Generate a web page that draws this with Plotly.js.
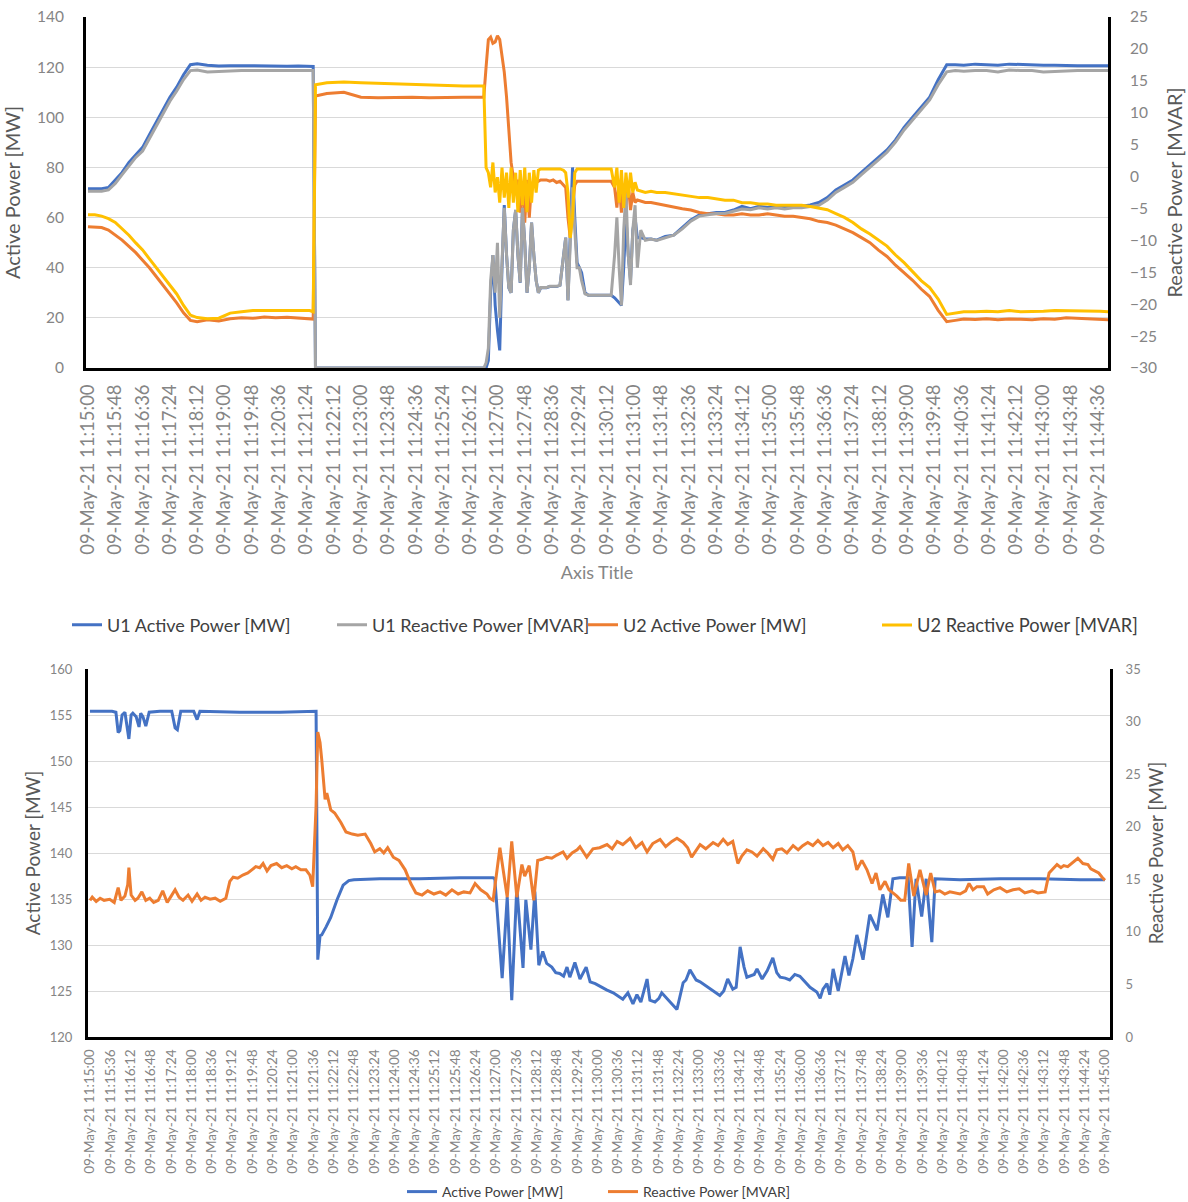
<!DOCTYPE html>
<html>
<head>
<meta charset="utf-8">
<script src="https://cdn.plot.ly/plotly-3.0.1.min.js"></script>
<style>
html,body{margin:0;padding:0;background:#ffffff;}
#chart{width:1188px;height:1202px;}
</style>
</head>
<body>
<div id="chart"></div>
<script>
// ---------- TOP CHART DATA (seconds after 09-May-21 11:15:00) ----------
const topSeconds = [
  0,12,24,36,48,60,72,84,96,108,120,132,144,156,168,180,192,210,230,250,270,290,310,330,350,370,390,396,
  400,420,450,480,510,540,570,600,630,660,690,696,
  700,704,708,712,716,720,724,728,732,736,740,744,748,752,756,760,764,768,772,776,780,784,788,792,796,800,
  806,812,818,824,830,836,
  840,844,848,852,856,860,864,868,
  874,880,890,900,910,920,
  926,930,934,938,942,946,950,954,958,962,966,972,980,
  990,1000,1015,1030,1045,1060,1075,1090,1105,1120,1135,1150,1165,1180,1195,1210,1225,1240,1255,1270,1285,1300,1315,1330,1345,1360,1375,1390,1405,1420,1435,1450,1465,1480,1495,1510,1525,1540,
  1560,1580,1600,1620,1640,1660,1680,1700,1720,1740,1760,1780,1794
];
const u1ActiveMW = [
  71.5,71.5,71.5,72,75,78,82,85,88,93,98,103,108,112,117,121,121.3,120.8,120.5,120.6,120.5,120.6,120.5,120.5,120.4,120.5,120.5,120.3,
  0,0,0,0,0,0,0,0,0,0,0,0,
  0,3,30,45,25,15,7,40,65,45,32,30,55,63,45,34,64,50,30,40,58,45,35,30,32,32,
  32,32.5,32.5,32.5,33,45,
  52,27,50,80,60,42,40,38,
  30,29,29,29,29,29,
  28,27,26,25,40,60,45,35,55,60,52,52,51.5,
  51.5,51,52.5,53,56,59,61,61.5,62,62,63,64.5,63.5,64.5,64,64.5,64,64.5,64.5,65,66,68,71,73,75,78,81,84,87,91,96,100,104,108,115,121,121,120.8,
  121.2,121,120.8,121.2,121,121,120.8,120.8,120.6,120.6,120.6,120.6,120.6
];
const u1ReactiveMVAR = [
  -2.3,-2.3,-2.3,-2.1,-1.1,0.3,1.6,3.0,4.0,5.9,7.9,9.9,11.8,13.4,15.2,16.6,16.7,16.4,16.5,16.6,16.6,16.6,16.6,16.6,16.6,16.6,16.6,16.6,
  -30,-30,-30,-30,-30,-30,-30,-30,-30,-30,-30,-30,
  -29.2,-26.9,-16.3,-12.3,-18.2,-10.4,-22.1,-12.3,-4.9,-12.3,-17.4,-18.2,-8.4,-5.2,-12.3,-16.6,-4.9,-10.4,-18.2,-14.3,-7.2,-12.3,-16.3,-18.2,-17.4,-17.4,
  -17.4,-17.2,-17.2,-17.2,-17.0,-12.3,
  -9.6,-19.4,-10.4,-1.7,-8.4,-14.3,-14.3,-16.3,
  -18.4,-18.6,-18.6,-18.6,-18.6,-18.6,
  -12.3,-6.4,-14.3,-20.2,-8.4,-2.5,-12.3,-17.0,-8.4,-4.5,-14.3,-8.4,-10.0,
  -9.8,-10.0,-9.6,-9.2,-8.2,-7.0,-6.2,-6.0,-5.8,-5.8,-5.4,-5.1,-5.2,-4.9,-5.1,-4.9,-5.1,-4.9,-4.9,-4.7,-4.5,-3.7,-2.5,-1.7,-0.9,0.3,1.4,2.6,3.8,5.4,7.3,8.9,10.5,12.0,14.4,16.4,16.6,16.5,
  16.6,16.6,16.4,16.7,16.6,16.6,16.4,16.5,16.6,16.6,16.6,16.6,16.6
];
const u2ActiveMW = [
  56.3,56.3,56,55,53,51,48.5,46,43,40,36.5,33,29.5,26,22,19,18.5,19.2,18.8,19.6,20,19.8,20.3,20,20.2,19.8,19.6,19.5,
  108.5,109.5,110,108,107.8,108,108,107.8,108,108,108,108,
  120,131,132,129.5,130,132.5,131,125,118,108,95,82,76,73,75,62,74,58,75,60,74,73,75,74.5,75,75,
  75,74.5,75,74,74.5,73,
  72,60,52,65,73,74.5,74.5,74.5,
  74.5,74.5,74.5,74.5,74.5,74.5,
  72,64,74,62,73,65,74,63,70,66,67,66.5,66,
  66,65.5,65,64,63.5,63,62,61.5,61.5,61,61,61.5,61,61,61.5,61,60.5,60.5,60,59.5,58.5,58,57,55.5,54,52,50,47,44.5,41,38,35,31.5,28.5,23,18.5,19,19.5,
  19.3,19.6,19.2,19.5,19.4,19.2,19.6,19.4,20,19.8,19.5,19.3,19.2
];
const u2ReactiveMVAR = [
  -6.0,-6.0,-6.2,-6.6,-7.2,-8.2,-9.2,-10.4,-11.5,-12.9,-14.3,-15.7,-17.0,-18.4,-20.2,-21.7,-22.1,-22.3,-22.2,-21.4,-21.2,-21.0,-21.0,-21.0,-20.9,-21.0,-21.0,-21.2,
  14.4,14.7,14.8,14.7,14.6,14.5,14.4,14.4,14.3,14.2,14.2,14.2,
  1.4,0.6,-1.7,2.2,-2.5,-0.1,-4.1,1.4,-3.3,0.6,-4.9,1.4,-4.1,0.6,-5.6,1.0,-4.5,1.4,-5.6,0.6,-4.1,1.0,-2.5,1.0,1.2,1.2,
  1.2,1.2,1.2,1.2,1.2,1.0,
  0.6,-2.5,-9.6,-6.4,0.6,1.2,1.2,1.2,
  1.2,1.2,1.2,1.2,1.2,1.2,
  -1.7,1.4,-4.1,1.0,-4.9,0.6,-3.3,0.6,-2.5,-0.9,-2.1,-2.3,-2.5,
  -2.3,-2.5,-2.5,-2.7,-2.9,-3.1,-3.3,-3.3,-3.5,-3.7,-3.7,-4.1,-4.1,-4.3,-4.3,-4.5,-4.5,-4.5,-4.5,-4.7,-4.9,-5.2,-5.8,-6.4,-7.2,-8.2,-9.0,-10.0,-10.9,-12.3,-13.5,-14.9,-16.3,-17.4,-19.2,-21.6,-21.4,-21.2,
  -21.2,-21.1,-21.2,-21.0,-21.2,-21.2,-21.1,-21.0,-21.0,-21.0,-21.0,-21.1,-21.2
];

// ---------- BOTTOM CHART DATA ----------
const activeSeconds = [
  0,18,39,46,50,53,57,62,69,73,
  76,82,87,90,94,99,105,124,145,151,
  155,161,184,190,195,266,337,401,404,408,
  411,419,427,438,449,459,468,514,585,656,
  715,718,731,740,748,757,768,773,782,789,
  796,803,810,819,826,833,840,846,851,860,
  869,880,887,896,904,917,928,936,945,954,
  963,970,977,988,993,1002,1009,1014,1023,1032,
  1041,1052,1057,1064,1075,1082,1091,1100,1108,1117,
  1124,1131,1140,1146,1153,1160,1165,1170,1178,1183,
  1192,1201,1211,1218,1224,1233,1241,1250,1259,1268,
  1277,1289,1295,1300,1307,1312,1318,1327,1339,1346,
  1353,1360,1371,1383,1396,1406,1415,1424,1436,1451,
  1458,1465,1475,1483,1493,1499,1543,1614,1685,1756,
  1800
];
const activePowerMW = [
  155.4,155.4,155.4,155.3,153.1,153.3,155.0,155.3,152.4,155.0,
  155.2,154.8,153.7,155.2,154.8,153.8,155.3,155.4,155.4,153.6,
  153.4,155.4,155.4,154.5,155.4,155.3,155.3,155.4,128.4,131,
  131.1,132,133,134.9,136.5,137,137.1,137.2,137.2,137.3,
  137.3,137.2,126.4,135.2,124,136.3,127.5,134.9,129.5,135.8,
  127.8,129.3,128,127.6,127,126.9,126.6,127.6,126.5,128.1,
  126.3,127.6,126,125.8,125.5,125.1,124.8,124.5,124.1,124.8,
  123.6,124.6,123.8,126.3,124,123.8,124.2,124.8,124.2,123.6,
  123,125.9,126.2,127.3,126.2,126,125.6,125.2,124.9,124.5,
  125,126.3,125.2,125.4,129.8,127.6,126.5,126.6,126.8,127.4,
  126.3,127.2,128.6,127,126.5,126.4,126.2,126.8,126.6,126,
  125.4,124.9,124.2,125.2,125.8,124.6,127.4,125,128.8,126.7,
  128.5,131.1,128.4,133.3,131.6,135.5,133,137.2,137.3,137.3,
  129.8,137.2,133.1,137.2,130.3,137.2,137.1,137.2,137.2,137.1,
  137.1
];
const reactiveSeconds = [
  0,4,11,18,25,35,43,50,55,62,
  67,69,73,80,85,92,99,106,113,121,
  129,137,144,151,158,165,174,181,190,197,
  204,213,222,231,241,248,254,262,271,280,
  287,294,301,307,314,321,331,340,349,358,
  365,374,383,390,395,401,404,408,411,417,
  420,427,434,445,454,465,475,488,498,505,
  514,521,528,538,548,559,569,578,589,599,
  610,621,631,642,653,663,674,683,693,704,
  709,715,727,740,748,757,766,771,779,787,
  794,802,810,819,828,839,846,855,864,869,
  881,892,904,917,926,935,945,958,968,979,
  988,998,1011,1021,1032,1041,1052,1060,1067,1075,
  1082,1092,1105,1114,1123,1131,1140,1149,1156,1165,
  1174,1183,1194,1202,1211,1218,1227,1236,1247,1256,
  1264,1273,1282,1291,1300,1309,1318,1327,1335,1344,
  1353,1360,1369,1378,1387,1394,1401,1410,1417,1424,
  1431,1438,1445,1452,1461,1472,1483,1491,1499,1507,
  1516,1525,1534,1543,1553,1559,1566,1573,1585,1592,
  1603,1614,1626,1637,1648,1658,1671,1681,1694,1701,
  1708,1715,1722,1727,1734,1743,1752,1761,1770,1775,
  1782,1789,1795,1800
];
const reactivePowerMVAR = [
  13.0,13.3,12.9,13.2,13.0,13.1,12.8,14.2,13.0,13.4,
  14.5,16.1,13.5,13.0,13.2,13.8,13.0,13.2,12.8,13.0,
  13.9,12.8,13.4,14.0,13.3,13.0,13.5,12.9,13.6,13.0,
  13.3,13.1,13.2,12.9,13.2,14.8,15.2,15.1,15.4,15.6,
  15.9,16.2,16.1,16.5,15.8,16.3,16.5,16.1,16.3,16.0,
  16.2,15.9,15.9,15.4,14.3,22.0,29.0,28.0,26.4,22.6,
  23.2,21.6,21.3,20.4,19.5,19.3,19.2,19.3,18.4,17.6,
  17.9,17.5,18.0,17.1,16.8,15.9,14.6,13.7,13.5,13.9,
  13.6,13.8,13.5,14.0,13.6,13.8,13.7,14.6,14.0,13.6,
  13.2,13.0,18.0,13.3,18.6,13.3,16.4,15.3,16.3,13.0,
  16.8,16.9,17.1,17.0,17.3,17.6,17.0,17.5,17.8,18.1,
  17.1,17.9,18.0,18.3,17.9,18.6,18.3,18.9,18.0,18.5,
  17.6,18.4,18.8,18.1,18.6,18.9,18.5,18.0,17.1,17.8,
  18.3,17.9,18.5,18.2,18.8,18.3,18.6,16.5,17.2,17.8,
  17.6,17.2,17.9,17.5,16.9,17.8,17.9,17.5,18.2,17.8,
  18.2,18.5,18.2,18.7,18.2,18.5,18.0,18.4,17.8,18.2,
  17.6,15.9,16.8,15.9,14.6,15.6,14.0,14.8,14.0,13.7,
  13.4,13.0,13.0,16.5,13.4,15.9,13.5,15.6,13.8,13.9,
  13.6,13.8,13.7,13.6,13.9,14.6,14.0,14.3,14.3,13.6,
  14.0,14.2,13.8,14.0,14.1,13.7,13.9,13.7,13.8,15.6,
  16.0,16.4,16.1,16.3,16.2,16.6,17.0,16.5,16.4,16.0,
  15.8,15.6,15.2,14.9
];

// ---------- helpers ----------
const START_MS = Date.UTC(2021, 4, 9, 11, 15, 0);
function toTime(s) {
  return new Date(START_MS + s * 1000).toISOString().replace('T', ' ').replace('Z', '');
}
const FONT = 'Lato, "Open Sans", "DejaVu Sans", sans-serif';
const BLUE = '#4472C4', GRAY = '#A5A5A5', ORANGE = '#ED7D31', YELLOW = '#FFC000';
const W = 1188, H = 1202;
const px = v => v / W;
const py = v => 1 - v / H;

const topX = topSeconds.map(toTime);
const actX = activeSeconds.map(toTime);
const reaX = reactiveSeconds.map(toTime);

const traces = [
  {x: topX, y: u1ActiveMW, name: 'U1 Active Power [MW]', xaxis: 'x', yaxis: 'y', legend: 'legend',
   type: 'scatter', mode: 'lines', line: {color: BLUE, width: 3}},
  {x: topX, y: u1ReactiveMVAR, name: 'U1 Reactive Power [MVAR]', xaxis: 'x', yaxis: 'y2', legend: 'legend2',
   type: 'scatter', mode: 'lines', line: {color: GRAY, width: 3}},
  {x: topX, y: u2ActiveMW, name: 'U2 Active Power [MW]', xaxis: 'x', yaxis: 'y', legend: 'legend3',
   type: 'scatter', mode: 'lines', line: {color: ORANGE, width: 3}},
  {x: topX, y: u2ReactiveMVAR, name: 'U2 Reactive Power [MVAR]', xaxis: 'x', yaxis: 'y2', legend: 'legend4',
   type: 'scatter', mode: 'lines', line: {color: YELLOW, width: 3}},
  {x: actX, y: activePowerMW, name: 'Active Power [MW]', xaxis: 'x2', yaxis: 'y3', legend: 'legend5',
   type: 'scatter', mode: 'lines', line: {color: BLUE, width: 3}},
  {x: reaX, y: reactivePowerMVAR, name: 'Reactive Power [MVAR]', xaxis: 'x2', yaxis: 'y4', legend: 'legend6',
   type: 'scatter', mode: 'lines', line: {color: ORANGE, width: 3}}
];

const tickGray = '#858585';
const titleGray = '#595959';
function legendAt(x, y, size) {
  return {orientation: 'h', x: px(x), xanchor: 'left', y: py(y), yanchor: 'middle',
          bgcolor: 'rgba(0,0,0,0)', borderwidth: 0, font: {family: FONT, size: size, color: '#404040'}};
}

const layout = {
  width: W, height: H,
  margin: {l: 0, r: 0, t: 0, b: 0, pad: 0, autoexpand: false},
  paper_bgcolor: '#ffffff', plot_bgcolor: 'rgba(0,0,0,0)',
  font: {family: FONT, color: tickGray},
  showlegend: true,
  hovermode: false,
  // ---- top chart ----
  xaxis: {
    domain: [px(86), px(1108)], anchor: 'y', type: 'date', automargin: false,
    range: [toTime(-3.5), toTime(1793.6)],
    tick0: toTime(0), dtick: 48000, tickformat: '%d-%b-%y %H:%M:%S', tickangle: -90,
    tickfont: {family: FONT, size: 18.5, color: tickGray}, ticks: '', ticklabelstandoff: 6,
    showgrid: false, zeroline: false, showline: true, linecolor: '#000000', linewidth: 3,
    title: {text: 'Axis Title', font: {family: FONT, size: 18, color: tickGray}, standoff: 13}
  },
  yaxis: {
    domain: [py(368), py(17)], anchor: 'x', range: [0, 140], tick0: 0, dtick: 20, automargin: false,
    gridcolor: '#d9d9d9', gridwidth: 1, zeroline: false,
    showline: true, linecolor: '#000000', linewidth: 3, ticks: '', ticklabelstandoff: 16,
    tickfont: {family: FONT, size: 15.5, color: tickGray},
    title: {text: 'Active Power [MW]', font: {family: FONT, size: 20, color: titleGray}, standoff: 14}
  },
  yaxis2: {
    overlaying: 'y', side: 'right', anchor: 'x', range: [-30, 25], tick0: -30, dtick: 5, automargin: false,
    showgrid: false, zeroline: false,
    showline: true, linecolor: '#000000', linewidth: 3, ticks: '', ticklabelstandoff: 16,
    tickfont: {family: FONT, size: 15.5, color: tickGray},
    title: {text: 'Reactive Power [MVAR]', font: {family: FONT, size: 20, color: titleGray}, standoff: 12}
  },
  // ---- bottom chart ----
  xaxis2: {
    domain: [px(88), px(1110)], anchor: 'y3', type: 'date', automargin: false,
    range: [toTime(-3.5), toTime(1809)],
    tick0: toTime(0), dtick: 36000, tickformat: '%d-%b-%y %H:%M:%S', tickangle: -90,
    tickfont: {family: FONT, size: 13.5, color: tickGray}, ticks: '', ticklabelstandoff: 4,
    showgrid: false, zeroline: false, showline: true, linecolor: '#000000', linewidth: 3
  },
  yaxis3: {
    domain: [py(1037), py(669)], anchor: 'x2', range: [120, 160], tick0: 120, dtick: 5, automargin: false,
    gridcolor: '#d9d9d9', gridwidth: 1, zeroline: false,
    showline: true, linecolor: '#000000', linewidth: 3, ticks: '', ticklabelstandoff: 10,
    tickfont: {family: FONT, size: 13, color: tickGray},
    title: {text: 'Active Power [MW]', font: {family: FONT, size: 19, color: titleGray}, standoff: 5}
  },
  yaxis4: {
    overlaying: 'y3', side: 'right', anchor: 'x2', range: [0, 35], tick0: 0, dtick: 5, automargin: false,
    showgrid: false, zeroline: false,
    showline: true, linecolor: '#000000', linewidth: 3, ticks: '', ticklabelstandoff: 10,
    tickfont: {family: FONT, size: 13, color: tickGray},
    title: {text: 'Reactive Power [MW]', font: {family: FONT, size: 19, color: titleGray}, standoff: 10}
  },
  legend: legendAt(67, 625, 18),
  legend2: legendAt(332, 625, 18),
  legend3: legendAt(583, 625, 18),
  legend4: legendAt(877, 625, 18.3),
  legend5: legendAt(402, 1192, 14),
  legend6: legendAt(603, 1192, 14)
};

Plotly.newPlot('chart', traces, layout, {staticPlot: true, displayModeBar: false});
</script>
</body>
</html>
